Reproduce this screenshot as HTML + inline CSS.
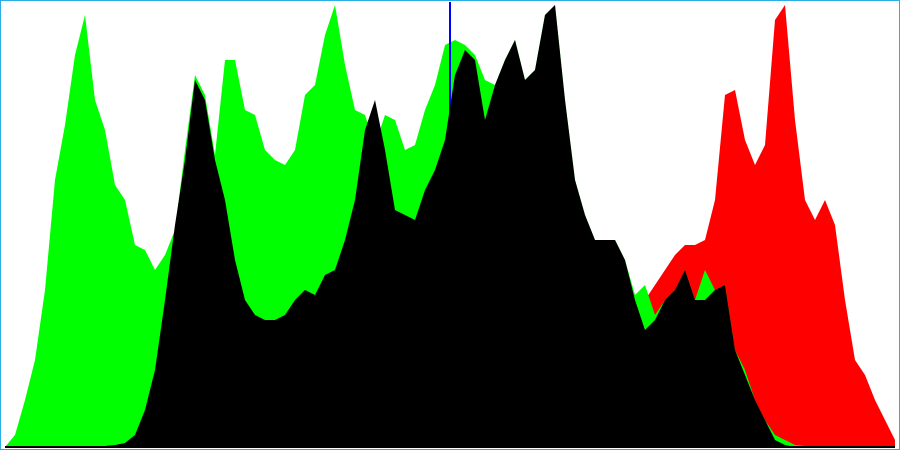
<!DOCTYPE html>
<html><head><meta charset="utf-8"><style>
html,body{margin:0;padding:0;background:#fff}
#wrap{position:relative;width:900px;height:450px;box-sizing:border-box;border:1px solid #2aaee6;overflow:hidden}
svg{position:absolute;left:-1px;top:-1px}
</style></head><body>
<div id="wrap">
<svg id="chart" width="900" height="450"></svg>
</div>
<script>
const greenValues=[0,12,47,87,157,267,322,392,432,347,317,262,247,202,197,177,192,217,297,372,352,292,387,387,337,332,297,287,282,297,352,362,412,442,382,337,332,302,332,327,297,302,337,362,402,407,402,392,367,362,387,407,367,377,432,442,347,267,232,207,207,207,187,152,162,132,147,157,177,147,177,157,162,97,77,47,27,12,7,2,1,0,0,0,0,0,0,0,0,0];
const blackValues=[0,0,0,0,0,0,0,0,0,0,1,2,4,12,37,77,147,222,287,367,347,287,247,187,147,132,127,127,132,147,157,152,172,177,207,247,317,347,297,237,232,227,257,277,307,372,397,387,327,362,387,407,367,377,432,442,347,267,232,207,207,207,187,147,117,127,147,157,177,147,147,157,162,97,72,47,27,7,2,0,0,0,0,0,0,0,0,0,0,0];
const redValues=[0,0,0,0,0,0,0,0,0,0,0,0,1,5,20,50,100,150,200,250,250,230,200,150,120,110,110,110,115,120,130,130,150,160,180,200,250,280,250,200,200,200,220,240,260,300,320,320,280,300,320,330,300,310,350,360,300,230,200,180,180,180,177,152,147,162,177,192,202,202,207,247,352,357,307,282,302,427,442,327,247,227,247,222,147,87,72,47,27,7];
const blueBins=[44.5];
const blueValues=[445];
const svg=document.getElementById('chart');
const NS='http://www.w3.org/2000/svg';
function xScale(i){return 5+i*10;}
function yScale(v){return 447-v;}
function area(vals,color,name){
  let d='M'+xScale(0)+','+yScale(0);
  vals.forEach((v,i)=>{d+=' L'+xScale(i)+','+yScale(v);});
  d+=' L'+xScale(vals.length-1)+','+yScale(0)+' Z';
  const p=document.createElementNS(NS,'path');
  p.setAttribute('d',d);p.setAttribute('fill',color);
  
  
  svg.appendChild(p);
}
area(redValues,'#ff0000','red-channel-area');
area(greenValues,'#00ff00','green-channel-area');
blueBins.forEach((b,k)=>{
  const r=document.createElementNS(NS,'rect');
  r.setAttribute('x',xScale(b)-1);r.setAttribute('width',2);
  r.setAttribute('y',yScale(blueValues[k]));r.setAttribute('height',blueValues[k]);
  r.setAttribute('fill','#0000ff');
  
  
  svg.appendChild(r);
});
area(blackValues,'#000000','luminance-area');
const base=document.createElementNS(NS,'rect');
base.setAttribute('x',5);base.setAttribute('y',446);base.setAttribute('width',890);base.setAttribute('height',2);base.setAttribute('fill','#000');


svg.appendChild(base);
</script>
</body></html>
